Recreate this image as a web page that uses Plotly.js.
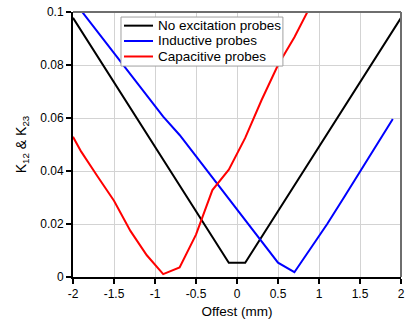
<!DOCTYPE html>
<html>
<head>
<meta charset="utf-8">
<script src="https://cdn.plot.ly/plotly-3.0.1.min.js"></script>
<style>html,body{margin:0;padding:0;background:#fff;}#chart{width:405px;height:320px;}</style>
</head>
<body>
<div id="chart"></div>
<script>
const seriesNames = ["No excitation probes", "Inductive probes", "Capacitive probes"];
const seriesColors = ["#000000", "#0000ff", "#ff0000"];

const noExcX = [-2, -1.5, -1, -0.5, -0.1, 0.1, 0.5, 1, 1.5, 2];
const noExcY = [0.0978, 0.0735, 0.049, 0.0245, 0.0054, 0.0054, 0.0249, 0.0494, 0.0739, 0.0978];

const inductX = [-1.9, -1.7, -1.5, -1.3, -1.1, -0.9, -0.7, -0.5, -0.3, -0.1, 0.1, 0.3, 0.5, 0.7, 0.9, 1.1, 1.3, 1.5, 1.7, 1.9];
const inductY = [0.1005, 0.0925, 0.0845, 0.0765, 0.0685, 0.0605, 0.0536, 0.0456, 0.0375, 0.0295, 0.0215, 0.0134, 0.0054, 0.0018, 0.0107, 0.0200, 0.0298, 0.0397, 0.0497, 0.0596];

const capX = [-2, -1.9, -1.7, -1.5, -1.3, -1.1, -0.9, -0.7, -0.5, -0.3, -0.1, 0.1, 0.3, 0.5, 0.7, 0.9];
const capY = [0.0529, 0.0473, 0.0379, 0.0288, 0.0174, 0.0082, 0.0011, 0.0036, 0.0160, 0.0328, 0.0405, 0.0525, 0.0668, 0.0800, 0.0905, 0.1025];

const xTickVals = [-2, -1.5, -1, -0.5, 0, 0.5, 1, 1.5, 2];
const xTickText = ["-2", "-1.5", "-1", "-0.5", "0", "0.5", "1", "1.5", "2"];
const yTickVals = [0, 0.02, 0.04, 0.06, 0.08, 0.1];
const yTickText = ["0", "0.02", "0.04", "0.06", "0.08", "0.1"];

const font = "Liberation Sans, Arial, sans-serif";

const xs = [noExcX, inductX, capX];
const ys = [noExcY, inductY, capY];
const traces = xs.map((x, i) => ({
  x: x, y: ys[i], name: seriesNames[i], mode: "lines",
  line: {color: seriesColors[i], width: 2}
}));

// Legend drawn as a boxed panel (paper coords) to match the compact row spacing
const legBox = {x0: 0.1463, x1: 0.640, y0: 0.796, y1: 0.981};
const legRowY = [0.9485, 0.8906, 0.8321];
const shapes = [
  {type: "line", xref: "paper", yref: "paper", x0: 0, x1: 1, y0: 1, y1: 1, line: {color: "#6e6e6e", width: 2}},
  {type: "line", xref: "paper", yref: "paper", x0: 1, x1: 1, y0: 0, y1: 1, line: {color: "#6e6e6e", width: 2}},
  {type: "rect", xref: "paper", yref: "paper", x0: legBox.x0, x1: legBox.x1, y0: legBox.y0, y1: legBox.y1,
   fillcolor: "#ffffff", line: {color: "#a0a0a0", width: 1}}
];
const annotations = [];
seriesNames.forEach((name, i) => {
  shapes.push({type: "line", xref: "paper", yref: "paper", x0: 0.1555, x1: 0.2439,
    y0: legRowY[i], y1: legRowY[i], line: {color: seriesColors[i], width: 2}});
  annotations.push({xref: "paper", yref: "paper", x: 0.2530, y: legRowY[i],
    xanchor: "left", yanchor: "middle", showarrow: false, text: name,
    font: {family: font, size: 13.5, color: "#000"}});
});

const layout = {
  width: 405, height: 320,
  margin: {l: 73, r: 4, t: 12, b: 43},
  paper_bgcolor: "#ffffff", plot_bgcolor: "#ffffff",
  font: {family: font, size: 12, color: "#000"},
  showlegend: false,
  xaxis: {
    range: [-2, 2], tickvals: xTickVals, ticktext: xTickText,
    showgrid: true, gridcolor: "#d3d3d3", gridwidth: 1,
    zeroline: false, showline: true, linecolor: "#000", linewidth: 2,
    ticks: "outside", ticklen: 5, tickcolor: "#000", tickwidth: 1.5,
    tickfont: {family: font, size: 12},
    title: {text: "Offest (mm)", font: {family: font, size: 13.5}, standoff: 6}
  },
  yaxis: {
    range: [0, 0.1], tickvals: yTickVals, ticktext: yTickText,
    showgrid: true, gridcolor: "#d3d3d3", gridwidth: 1,
    zeroline: false, showline: true, linecolor: "#000", linewidth: 2,
    ticks: "outside", ticklen: 5, tickcolor: "#000", tickwidth: 1.5,
    tickfont: {family: font, size: 12},
    title: {text: "K<sub>12</sub> &amp; K<sub>23</sub>", font: {family: font, size: 14}, standoff: 10}
  },
  shapes: shapes,
  annotations: annotations
};

Plotly.newPlot("chart", traces, layout, {displayModeBar: false, staticPlot: true});
</script>
</body>
</html>
